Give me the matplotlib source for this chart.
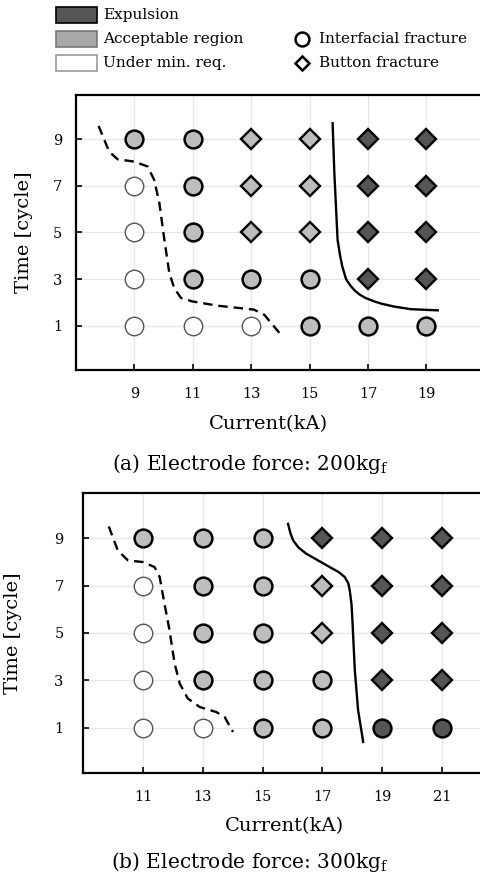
import numpy as np
import matplotlib.pyplot as plt
from matplotlib.patches import Rectangle
from matplotlib.lines import Line2D

plt.rcParams['font.family'] = ['DejaVu Serif']
plt.rcParams['mathtext.fontset'] = 'dejavuserif'

# weld lobe data: result codes per (current, time)
# W = under min. req., G = acceptable circle, GD = acceptable diamond,
# D = expulsion diamond, DC = expulsion circle
times = [1, 3, 5, 7, 9]

current_a = [9, 11, 13, 15, 17, 19]
result_a = [
    ['W', 'W', 'W', 'W', 'G'],
    ['W', 'G', 'G', 'G', 'G'],
    ['W', 'G', 'GD', 'GD', 'GD'],
    ['G', 'G', 'GD', 'GD', 'GD'],
    ['G', 'D', 'D', 'D', 'D'],
    ['G', 'D', 'D', 'D', 'D'],
]
dash_a_x = [7.78, 8.14, 8.43, 9.0, 9.46, 9.68, 9.86, 10.03, 10.2, 10.37, 10.6, 11.0, 11.85, 13.1, 13.45, 13.97]
dash_a_y = [9.57, 8.47, 8.14, 8.04, 7.83, 7.26, 6.26, 4.69, 3.26, 2.61, 2.19, 2.04, 1.86, 1.69, 1.47, 0.69]
solid_a_x = [15.79, 15.85, 15.96, 16.04, 16.12, 16.25, 16.4, 16.54, 16.7, 16.9, 17.2, 17.45, 17.9, 18.47, 19.39]
solid_a_y = [9.69, 7.54, 4.69, 4.05, 3.55, 3.0, 2.72, 2.52, 2.35, 2.2, 2.05, 1.95, 1.82, 1.71, 1.66]

current_b = [11, 13, 15, 17, 19, 21]
result_b = [
    ['W', 'W', 'W', 'W', 'G'],
    ['W', 'G', 'G', 'G', 'G'],
    ['G', 'G', 'G', 'G', 'G'],
    ['G', 'G', 'GD', 'GD', 'D'],
    ['DC', 'D', 'D', 'D', 'D'],
    ['DC', 'D', 'D', 'D', 'D'],
]
dash_b_x = [9.86, 10.16, 10.5, 11.0, 11.39, 11.56, 11.72, 11.89, 12.06, 12.23, 12.5, 12.9, 13.45, 13.73, 14.01]
dash_b_y = [9.49, 8.48, 8.06, 7.99, 7.78, 7.36, 6.24, 5.11, 3.71, 2.87, 2.24, 1.88, 1.67, 1.46, 0.83]
solid_b_x = [15.85, 15.93, 16.02, 16.2, 16.46, 16.85, 17.24, 17.55, 17.74, 17.86, 17.91, 17.97, 18.0, 18.08, 18.19, 18.36]
solid_b_y = [9.6, 9.2, 8.9, 8.6, 8.34, 8.06, 7.78, 7.56, 7.36, 7.1, 6.8, 6.2, 5.53, 3.43, 1.74, 0.41]

DARK = '#555555'
GRAY = '#bdbdbd'

styles = {
    'W':  dict(marker='o', ms=13.3, mfc='white', mec='#555555', mew=1.0),
    'G':  dict(marker='o', ms=12.8, mfc=GRAY, mec='black', mew=1.8),
    'GD': dict(marker='D', ms=10.0, mfc=GRAY, mec='black', mew=1.7),
    'D':  dict(marker='D', ms=10.0, mfc=DARK, mec='black', mew=1.7),
    'DC': dict(marker='o', ms=12.8, mfc=DARK, mec='black', mew=1.8),
}


def draw_panel(ax, currents, results, dx, dy, sx, sy, xlim, ypad, xlab, ylab_x):
    ax.plot(dx, dy, color='black', lw=1.7, ls=(0, (4, 2.5)), zorder=2)
    ax.plot(sx, sy, color='black', lw=1.7, zorder=2)
    for c, col in zip(currents, results):
        for t, r in zip(times, col):
            ax.plot([c], [t], ls='none', zorder=3, **styles[r])
    ax.set_xlim(*xlim)
    ax.set_ylim(-0.9, 10.9)
    ax.set_xticks(currents)
    ax.set_yticks(times)
    ax.grid(True, color='#e6e6e6', lw=0.9, zorder=0)
    ax.set_axisbelow(True)
    ax.tick_params(direction='in', length=4, width=1.2, labelsize=10.5, pad=12)
    ax.tick_params(axis='y', pad=ypad)
    for s in ax.spines.values():
        s.set_linewidth(1.6)
    ax.set_xlabel('Current(kA)', fontsize=14)
    ax.set_ylabel('Time [cycle]', fontsize=14)
    ax.xaxis.set_label_coords(xlab[0], xlab[1])
    ax.yaxis.set_label_coords(ylab_x, 0.5)


fig = plt.figure(figsize=(4.8, 8.76), dpi=100)

ax1 = fig.add_axes([0.158, 0.5776, 0.852, 0.314])
draw_panel(ax1, current_a, result_a, dash_a_x, dash_a_y, solid_a_x, solid_a_y, (7, 21),
           10, (0.472, -0.165), -0.105)

ax2 = fig.add_axes([0.173, 0.1176, 0.873, 0.3196])
draw_panel(ax2, current_b, result_b, dash_b_x, dash_b_y, solid_b_x, solid_b_y, (9, 23),
           14, (0.48, -0.157), -0.146)

fig.text(0.522, 1 - 464 / 876, r'(a) Electrode force: 200kg$_{\mathrm{f}}$', fontsize=14.5,
         ha='center', va='center')
fig.text(0.52, 1 - 862 / 876, r'(b) Electrode force: 300kg$_{\mathrm{f}}$', fontsize=14.5,
         ha='center', va='center')

# legend drawn by hand in pixel positions
W, H = 480, 876
leg_rects = [('Expulsion', DARK, 'black', 15), ('Acceptable region', '#a8a8a8', '#777777', 39),
             ('Under min. req.', 'white', '#999999', 63)]
for label, fc, ec, yc in leg_rects:
    fig.add_artist(Rectangle((56 / W, 1 - (yc + 8) / H), 41 / W, 16 / H, transform=fig.transFigure,
                             fc=fc, ec=ec, lw=1.2))
    fig.text(103 / W, 1 - yc / H, label, fontsize=11, va='center', ha='left')

leg_marks = [('Interfacial fracture', 'o', 10, 39), ('Button fracture', 'D', 7.5, 63)]
for label, mk, ms, yc in leg_marks:
    fig.add_artist(Line2D([302 / W], [1 - yc / H], transform=fig.transFigure, marker=mk, ms=ms,
                          mfc='white', mec='black', mew=1.8, ls='none'))
    fig.text(319 / W, 1 - yc / H, label, fontsize=11, va='center', ha='left')

fig.savefig('out.png', dpi=100)
